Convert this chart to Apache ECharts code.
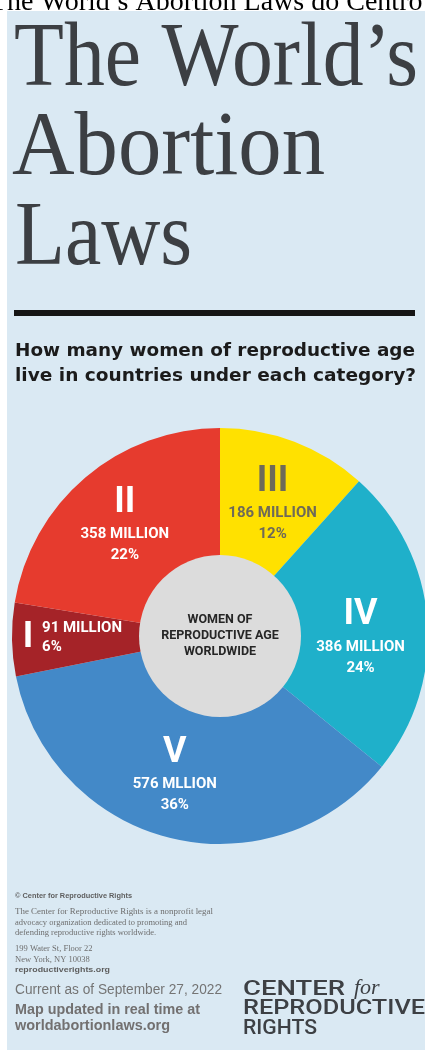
<!DOCTYPE html>
<html><head><meta charset="utf-8">
<script src="https://cdn.jsdelivr.net/npm/echarts@6/dist/echarts.min.js"></script>
<style>html,body{margin:0;padding:0;background:#fff}#c{width:425px;height:1050px}</style>
</head><body><div id="c"></div>
<script>
// ---- data ----
const categories = ['III', 'IV', 'V', 'I', 'II'];
const womenMillions = [186, 386, 576, 91, 358];
const valueLabels = ['186 MILLION', '386 MILLION', '576 MLLION', '91 MILLION', '358 MILLION'];
const shareLabels = ['12%', '24%', '36%', '6%', '22%'];
const centerLabel = 'WOMEN OF\nREPRODUCTIVE AGE\nWORLDWIDE';

// ---- style ----
const sliceColors = { III: '#ffe100', IV: '#1fb0ca', V: '#4389c8', I: '#a52328', II: '#e63b2e' };
const darkText = { III: true };
const mainLabelShift = { III: [0, 4], IV: [-6, 12], V: [-10, -5], I: [-45, 0], II: [0, 0] };
const sideLabelShift = { I: [9, -1] };
const BG = '#dae9f3';

const measureCtx = document.createElement('canvas').getContext('2d');
function fitScale(text, font, target) {
  measureCtx.font = font;
  return target / measureCtx.measureText(text).width;
}
function txt(x, y, text, size, family, color, opts) {
  opts = opts || {};
  const weight = opts.weight || 'normal';
  const fstyle = opts.style || 'normal';
  const font = fstyle + ' ' + weight + ' ' + size + 'px ' + family;
  const el = {
    type: 'text', x: x, y: y,
    style: { text: text, fill: color, font: font, align: 'left', verticalAlign: 'middle' }
  };
  if (opts.fit) el.scaleX = fitScale(text, font, opts.fit);
  return el;
}

const pieData = categories.map((c, i) => ({
  name: c, value: womenMillions[i],
  itemStyle: { color: sliceColors[c] }
}));

const chart = echarts.init(document.getElementById('c'), null, { renderer: 'canvas' });

const serifT = '"Liberation Serif", serif';
const sans = '"Liberation Sans", Arial, sans-serif';
const titleColor = '#3c3f43';
const footGrey = '#6e6e6e';
const logoColor = '#3d4044';

chart.setOption({
  backgroundColor: '#ffffff',
  animation: false,
  graphic: { elements: [
    txt(-10, 3, 'The World\u2019s Abortion Laws do Centro', 28, serifT, '#000'),
    { type: 'rect', shape: { x: 7, y: 11, width: 418, height: 1039 }, style: { fill: BG } },
    txt(14, 61, 'The World\u2019s', 92, serifT, titleColor, { fit: 404 }),
    txt(12, 150, 'Abortion', 92, serifT, titleColor, { fit: 313 }),
    txt(15, 240, 'Laws', 92, serifT, titleColor, { fit: 177 }),
    { type: 'rect', shape: { x: 14, y: 310, width: 401, height: 6 }, style: { fill: '#151515' } },
    txt(15, 351, 'How many women of reproductive age', 18, '"DejaVu Sans", sans-serif', '#1b1b1b', { weight: 'bold', fit: 400 }),
    txt(15, 376, 'live in countries under each category?', 18, '"DejaVu Sans", sans-serif', '#1b1b1b', { weight: 'bold', fit: 401 }),
    txt(15, 896, '\u00a9 Center for Reproductive Rights', 7.5, sans, '#5e5e5e', { weight: 'bold', fit: 117 }),
    txt(15, 912, 'The Center for Reproductive Rights is a nonprofit legal', 8.5, serifT, footGrey, { fit: 198 }),
    txt(15, 922.5, 'advocacy organization dedicated to promoting and', 8.5, serifT, footGrey),
    txt(15, 933, 'defending reproductive rights worldwide.', 8.5, serifT, footGrey),
    txt(15, 949, '199 Water St, Floor 22', 8.5, serifT, footGrey),
    txt(15, 959.5, 'New York, NY 10038', 8.5, serifT, footGrey),
    txt(15, 970, 'reproductiverights.org', 7.8, sans, '#5e5e5e', { weight: 'bold', fit: 95 }),
    txt(15, 990, 'Current as of September 27, 2022', 14, sans, '#747474', { fit: 207 }),
    txt(15, 1010, 'Map updated in real time at', 15, sans, '#727070', { weight: 'bold', fit: 185 }),
    txt(15, 1026, 'worldabortionlaws.org', 15, sans, '#727070', { weight: 'bold', fit: 155 }),
    txt(243, 990, 'CENTER', 21, 'Roboto, sans-serif', logoColor, { weight: '500', fit: 102 }),
    txt(354, 988, 'for', 22, serifT, logoColor, { style: 'italic' }),
    txt(243, 1009, 'REPRODUCTIVE', 21, 'Roboto, sans-serif', logoColor, { weight: '500', fit: 182 }),
    txt(243, 1029, 'RIGHTS', 21, 'Roboto, sans-serif', logoColor, { weight: '500', fit: 74 })
  ]},
  series: [
    {
      type: 'pie',
      center: [220, 636],
      radius: [80, 208],
      startAngle: 90,
      clockwise: true,
      avoidLabelOverlap: false,
      silent: true,
      z: 2,
      data: pieData,
      itemStyle: { borderWidth: 0 },
      labelLine: { show: false },
      label: {
        show: true,
        position: 'inside',
        formatter: function (p) {
          const c = categories[p.dataIndex];
          const d = darkText[c] ? 'D' : '';
          if (c === 'I') return '{num|I}';
          return '{num' + d + '|' + c + '}\n{val' + d + '|' + valueLabels[p.dataIndex] + '}\n{val' + d + '|' + shareLabels[p.dataIndex] + '}';
        },
        rich: {
          num: { fontFamily: 'Roboto', fontWeight: 'bold', fontSize: 36, lineHeight: 42, color: '#ffffff' },
          val: { fontFamily: 'Roboto', fontWeight: 'bold', fontSize: 15, lineHeight: 21, color: '#ffffff' },
          numD: { fontFamily: 'Roboto', fontWeight: 'bold', fontSize: 36, lineHeight: 42, color: '#6f6a58' },
          valD: { fontFamily: 'Roboto', fontWeight: 'bold', fontSize: 15, lineHeight: 21, color: '#6f6a58' }
        }
      },
      labelLayout: function (p) {
        const s = mainLabelShift[categories[p.dataIndex]];
        return s ? { dx: s[0], dy: s[1] } : {};
      }
    },
    {
      type: 'pie',
      center: [220, 636],
      radius: [80, 208],
      startAngle: 90,
      clockwise: true,
      avoidLabelOverlap: false,
      silent: true,
      z: 3,
      data: categories.map((c, i) => ({ name: c, value: womenMillions[i], label: { show: !!sideLabelShift[c] } })),
      itemStyle: { color: 'rgba(0,0,0,0)', borderWidth: 0 },
      labelLine: { show: false },
      label: {
        position: 'inside',
        formatter: function (p) {
          return '{t|' + valueLabels[p.dataIndex] + '}\n{t|' + shareLabels[p.dataIndex] + '}';
        },
        rich: {
          t: { fontFamily: 'Roboto', fontWeight: 'bold', fontSize: 15, lineHeight: 19, color: '#ffffff', width: 80, align: 'left' }
        }
      },
      labelLayout: function (p) {
        const s = sideLabelShift[categories[p.dataIndex]];
        return s ? { dx: s[0], dy: s[1] } : {};
      }
    },
    {
      type: 'pie',
      center: [220, 636],
      radius: [0, 81],
      silent: true,
      z: 4,
      data: [{ name: centerLabel, value: 1, itemStyle: { color: '#dcdcdc' } }],
      labelLine: { show: false },
      label: {
        show: true, position: 'center', formatter: '{b}',
        fontFamily: 'Roboto', fontWeight: 'bold', fontSize: 12.5, lineHeight: 16, color: '#262626'
      }
    }
  ]
});
</script>
</body></html>
